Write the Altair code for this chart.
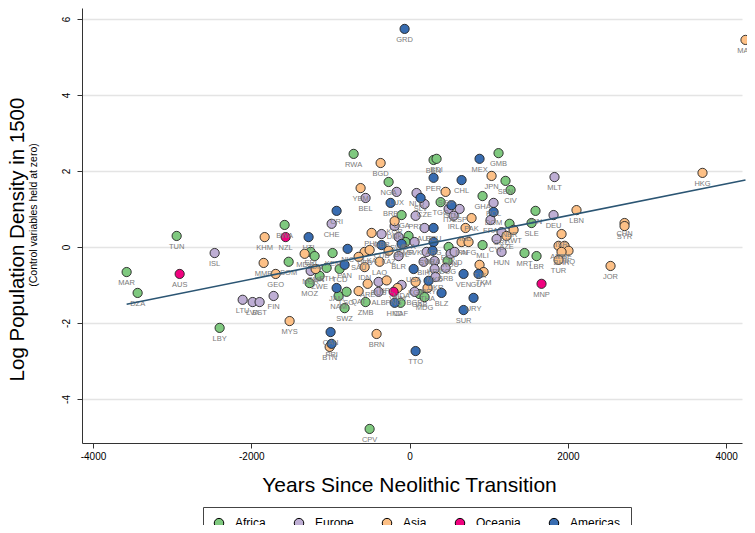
import altair as alt
import pandas as pd

iso = [
    # Africa
    "MAR", "DZA", "TUN", "LBY", "BWA", "SOM", "ERI", "SDN", "ETH", "ZWE", "MOZ", "KEN", "TCD", "NAM",
    "LSO", "SWZ", "ZMB", "CAF", "GAB", "MDG", "CPV", "NGA", "RWA", "UGA", "BEN", "BDI", "GMB", "SEN",
    "CIV", "GHA", "TGO", "BFA", "GIN", "SLE", "NER", "MLI", "MRT", "LBR", "EGY", "COG", "CMR",
    # Europe
    "ISL", "LTU", "LVA", "EST", "FIN", "NOR", "CHE", "BEL", "LUX", "DNK", "NLD", "CZE", "PRT", "AUT",
    "ITA", "ESP", "IRL", "POL", "FRA", "GRC", "MLT", "DEU", "HUN", "CYP", "ROU", "SRB", "SVN", "HRV",
    "BIH", "MKD", "UKR", "BGR", "ALB", "MDA", "GBR", "SWE", "BLR", "RUS", "SVK", "AND",
    # Asia
    "MAC", "HKG", "KHM", "MMR", "GEO", "MYS", "MDV", "OMN", "BGD", "YEM", "KOR", "PHL", "UZB", "LKA",
    "KAZ", "SAU", "LAO", "IDN", "ARE", "QAT", "NPL", "VNM", "THA", "KGZ", "BRN", "BTN", "JPN", "SGP",
    "PAK", "IND", "IRN", "AFG", "KWT", "AZE", "LBN", "CHN", "SYR", "ISR", "ARM", "PSE", "IRQ", "BHR",
    "TUR", "JOR", "TJK", "TKM",
    # Oceania
    "AUS", "NZL", "PNG", "MNP",
    # Americas
    "GRD", "HTI", "CRI", "BRB", "PAN", "JAM", "CAN", "PRI", "TTO", "PER", "CHL", "MEX", "SLV", "GTM",
    "DOM", "ECU", "NIC", "CUB", "BOL", "ARG", "BRA", "USA", "PRY", "VEN", "GUY", "BLZ", "URY", "SUR",
    "HND",
]

region = (["Africa"] * 41 + ["Europe"] * 40 + ["Asia"] * 46 + ["Oceania"] * 4 + ["Americas"] * 29)

years = [
    # Africa
    -3575, -3436, -2943, -2400, -1579, -1528, -1250, -1200, -1048, -1137, -1263, -973, -884, -897,
    -796, -821, -556, -114, 126, 189, -505, -265, -707, -101, 303, 341, 1124, 1212,
    1276, 922, 392, -13, 1591, 1541, 1263, 922, 1452, 1604, 493, 480, -51,
    # Europe
    -2463, -2109, -1983, -1895, -1718, -1250, -985, -556, -164, -189, 88, 189, 76, 189,
    493, 632, 556, 1061, 1023, 1162, 1831, 1819, 1162, 1099, 518, 455, 215, 316,
    177, 316, 328, 63, -392, -101, -354, -139, -139, -392, 63, 569,
    # Asia
    4244, 3701, -1831, -1844, -1692, -1516, -1326, -1187, -366, -619, -189, -480, -568, -505,
    -265, -644, -379, -568, -530, -644, -290, -152, 227, 76, -417, -1010, 1036, 455,
    783, 707, 657, 745, 1314, 1225, 2109, 2716, 2716, 1920, 1882, 1958, 2008, 1920,
    1882, 2539, 884, 935,
    # Oceania
    -2905, -1566, -202, 1667,
    # Americas
    -63, -1276, -922, -240, -821, -922, -998, -985, 76, 303, 657, 884, 139, 530,
    1061, 303, -783, -354, -101, 303, 291, 51, 240, 682, 871, 404, 808, 682,
    -189,
]

density = [
    # Africa
    -0.66, -1.21, 0.29, -2.13, 0.58, -0.39, -0.13, -0.24, -0.55, -0.76, -0.95, -0.16, -0.58, -1.29,
    -1.18, -1.61, -1.45, -1.47, -1.24, -1.32, -4.79, 1.71, 2.45, 0.84, 2.29, 2.32, 2.47, 1.74,
    1.50, 1.34, 1.18, 0.29, 0.95, 0.63, 0.61, 0.05, -0.16, -0.24, 0.00, -0.37, 0.13,
    # Europe
    -0.16, -1.39, -1.45, -1.45, -1.29, -0.63, 0.61, 1.29, 1.45, 0.55, 1.42, 1.13, 0.82, 0.50,
    1.00, 1.00, 0.82, 1.16, 0.71, 0.39, 1.84, 0.84, -0.13, 0.21, -0.18, -0.55, -0.13, -0.37,
    -0.39, -0.58, -0.79, -1.18, -1.18, -1.00, 0.34, 0.26, -0.24, -0.92, 0.13, -0.13,
    # Asia
    5.45, 1.95, 0.26, -0.42, -0.71, -1.95, -0.18, -0.58, 2.21, 1.55, 0.68, 0.37, -0.13, -0.08,
    -0.10, -0.26, -0.39, -0.53, -0.97, -1.16, -0.88, -1.08, -1.08, -0.92, -2.29, -2.63, 1.87, 1.45,
    0.76, 0.50, 0.13, 0.13, 0.45, 0.29, 0.97, 0.63, 0.55, 0.34, 0.03, 0.03, -0.10, -0.13,
    -0.34, -0.50, -0.47, -0.66,
    # Oceania
    -0.71, 0.26, -1.18, -0.97,
    # Americas
    5.74, 0.26, 0.95, 1.16, -0.47, -1.08, -2.24, -2.55, -2.74, 1.82, 1.76, 2.32, 1.29, 1.10,
    0.92, 0.50, -0.05, 0.05, 0.08, 0.13, -0.10, -0.58, -0.89, -0.71, -0.71, -1.21, -1.34, -1.66,
    -1.47,
]

regions = ["Africa", "Europe", "Asia", "Oceania", "Americas"]
palette = ["#7fc97f", "#beaed4", "#fdc086", "#f0027f", "#386cb0"]
x_ticks = [-4000, -2000, 0, 2000, 4000]
y_ticks = [-4, -2, 0, 2, 4, 6]

df = pd.DataFrame({"iso": iso, "region": region, "years": years, "density": density})

FONT = "Liberation Sans"
xs = alt.Scale(domain=[-4139, 4200], nice=False, zero=False)
ys = alt.Scale(domain=[-5.16, 6.29], nice=False, zero=False)

x_enc = alt.X("years:Q", scale=xs, axis=alt.Axis(
    values=x_ticks, grid=False, title="Years Since Neolithic Transition",
    titleFontSize=21, titleFontWeight="normal", titleX=327, titleY=42,
    titleBaseline="middle", titleAlign="center", titleColor="black",
    labelFontSize=10, labelColor="black", labelExpr="'' + datum.value",
    tickSize=5, tickColor="#333", domainColor="#333", labelPadding=3))
y_enc = alt.Y("density:Q", scale=ys, axis=alt.Axis(
    values=y_ticks, grid=True, gridColor="#e4e4e4", gridWidth=1.5,
    title="Log Population Density in 1500", titleFontSize=20.5, titleFontWeight="normal",
    titleAngle=270, titleX=-65, titleY=231, titleAlign="center", titleBaseline="middle",
    titleColor="black",
    labelAngle=270, labelAlign="center", labelBaseline="bottom", labelFontSize=10,
    labelColor="black", labelExpr="'' + datum.value", labelPadding=6,
    tickSize=5, tickColor="#333", domainColor="#333"))

base = alt.Chart(df)

points = base.mark_circle(size=85, stroke="#222", strokeWidth=0.9, opacity=1).encode(
    x=x_enc, y=y_enc,
    color=alt.Color("region:N", scale=alt.Scale(domain=regions, range=palette),
                    legend=alt.Legend(orient="none", legendX=121, legendY=499,
                                      direction="horizontal", title=None,
                                      strokeColor="#444", padding=10,
                                      labelFontSize=12, labelColor="black",
                                      symbolSize=90, symbolType="circle",
                                      symbolStrokeColor="black", symbolStrokeWidth=1,
                                      columnPadding=26, labelOffset=10)),
)

labels = base.mark_text(dy=11, fontSize=7.5, color="#7a7a7a", font=FONT).encode(
    x=alt.X("years:Q", scale=xs), y=alt.Y("density:Q", scale=ys), text="iso:N")

fit = base.transform_regression("years", "density").mark_line(
    color="#2b5573", strokeWidth=1.6).encode(
    x=alt.X("years:Q", scale=xs), y=alt.Y("density:Q", scale=ys))

subtitle = alt.Chart(alt.Data(values=[{"t": "(Control variables held at zero)"}])).mark_text(
    angle=270, fontSize=10.5, font=FONT, color="black", baseline="middle", align="center").encode(
    x=alt.value(-48), y=alt.value(207), text="t:N")

chart = alt.layer(points, labels, fit, subtitle).properties(
    width=660, height=435,
    autosize=alt.AutoSizeParams(type="none"),
    padding={"left": 74, "top": 0, "right": 5, "bottom": 82},
).configure(font=FONT).configure_view(stroke=None)

chart.save("out.html", embed_options={"renderer": "svg", "actions": False})
